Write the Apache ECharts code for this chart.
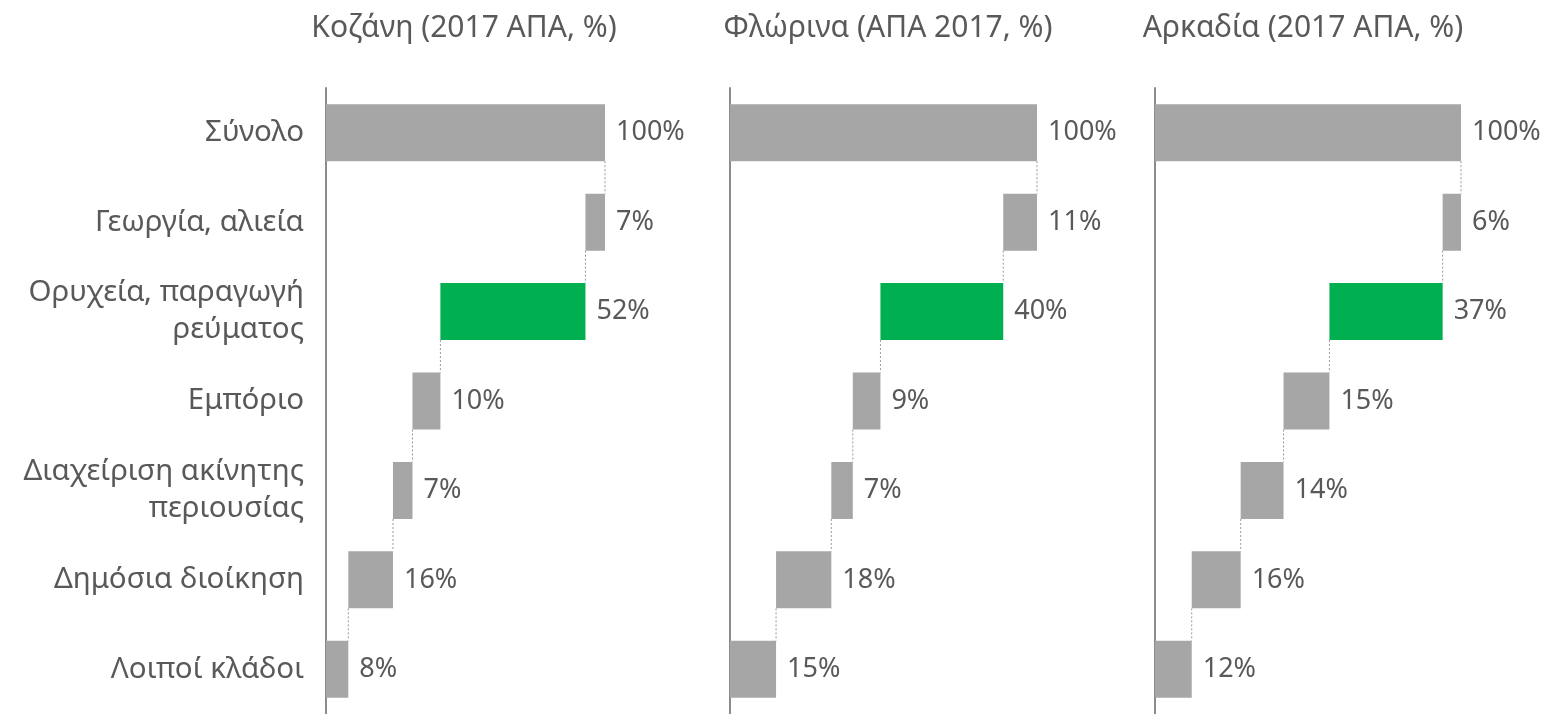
<!DOCTYPE html>
<html>
<head>
<meta charset="utf-8">
<script src="https://cdn.jsdelivr.net/npm/echarts@6/dist/echarts.min.js"></script>
<style>
  html, body { margin: 0; padding: 0; background: #fff; }
  #chart { width: 1545px; height: 714px; }
</style>
</head>
<body>
<div id="chart"></div>
<script>
// κατηγορίες (από πάνω προς τα κάτω)
const categories = [
  'Σύνολο',
  'Γεωργία, αλιεία',
  'Ορυχεία, παραγωγή\nρεύματος',
  'Εμπόριο',
  'Διαχείριση ακίνητης\nπεριουσίας',
  'Δημόσια διοίκηση',
  'Λοιποί κλάδοι'
]
const titles = ['Κοζάνη (2017 ΑΠΑ, %)', 'Φλώρινα (ΑΠΑ 2017, %)', 'Αρκαδία (2017 ΑΠΑ, %)']
const kozani = [100, 7, 52, 10, 7, 16, 8]
const florina = [100, 11, 40, 9, 7, 18, 15]
const arkadia = [100, 6, 37, 15, 14, 16, 12]
const panels = [kozani, florina, arkadia]

const textColor = '#595959'
const grey = '#A6A6A6'
const green = '#00B050'
const barWidth = 57
const highlightIdx = 2

const grids = [
  { left: 326, top: 88, width: 279, height: 632 },
  { left: 730, top: 88, width: 307, height: 632 },
  { left: 1155, top: 88, width: 306, height: 632 }
]
const titleCenters = [464, 888, 1303]

// αφετηρία κάθε μπάρας (waterfall)
function bases(vals) {
  let out = [0]
  let rest = vals[0]
  for (let i = 1; i < vals.length; i++) {
    rest -= vals[i]
    out.push(rest)
  }
  return out
}

let option = {
  backgroundColor: '#fff',
  animation: false,
  textStyle: { fontFamily: 'Noto Sans', color: textColor },
  title: [],
  grid: [],
  xAxis: [],
  yAxis: [],
  series: []
}

panels.forEach((vals, p) => {
  const base = bases(vals)
  option.title.push({
    text: titles[p],
    left: titleCenters[p],
    top: 13,
    padding: 0,
    textAlign: 'center',
    textStyle: { fontFamily: 'Noto Sans', fontSize: 30, fontWeight: 'normal', color: textColor }
  })
  option.grid.push(grids[p])
  option.xAxis.push({
    gridIndex: p, type: 'value', min: 0, max: 100,
    show: false
  })
  option.yAxis.push({
    gridIndex: p, type: 'category', inverse: true, data: categories,
    axisLine: { show: true, lineStyle: { color: '#8C8C8C', width: 2 } },
    axisTick: { show: false },
    splitLine: { show: false },
    axisLabel: {
      show: p === 0, margin: 22, fontSize: 29.5, lineHeight: 37,
      color: textColor, fontFamily: 'Noto Sans', align: 'right'
    }
  })
  option.series.push({
    type: 'bar', xAxisIndex: p, yAxisIndex: p, stack: 'wf' + p,
    barWidth: barWidth, silent: true,
    itemStyle: { color: 'transparent' },
    data: base
  })
  option.series.push({
    type: 'bar', xAxisIndex: p, yAxisIndex: p, stack: 'wf' + p,
    barWidth: barWidth,
    data: vals.map((v, i) => ({
      value: v,
      itemStyle: { color: i === highlightIdx ? green : grey }
    })),
    label: {
      show: true, position: 'right', distance: 11,
      fontSize: 27, color: textColor, fontFamily: 'Noto Sans',
      formatter: d => d.value + '%'
    }
  })
  // διακεκομμένες γραμμές σύνδεσης
  const links = []
  for (let i = 1; i < vals.length; i++) links.push([base[i] + vals[i], i])
  option.series.push({
    type: 'custom', xAxisIndex: p, yAxisIndex: p, silent: true,
    data: links,
    renderItem: (params, api) => {
      const pt = api.coord([api.value(0), api.value(1)])
      const band = api.size([0, 1])[1]
      const half = barWidth / 2
      return {
        type: 'line',
        shape: { x1: pt[0], y1: pt[1] - band + half, x2: pt[0], y2: pt[1] - half },
        style: { stroke: '#999', lineWidth: 1, lineDash: [2, 2] }
      }
    }
  })
})

const chart = echarts.init(document.getElementById('chart'))
chart.setOption(option)
</script>
</body>
</html>
